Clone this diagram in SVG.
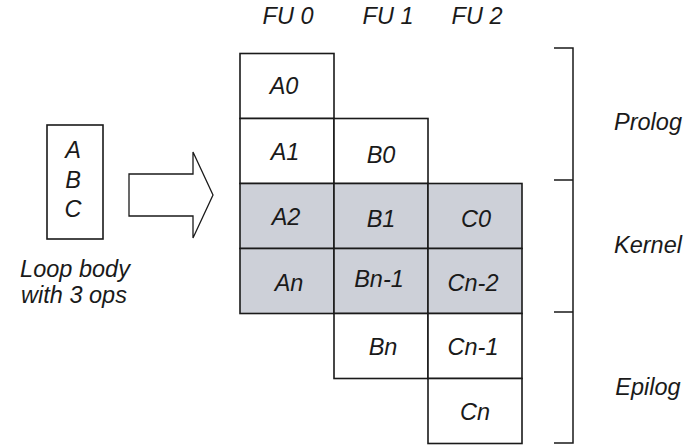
<svg xmlns="http://www.w3.org/2000/svg" width="688" height="446" viewBox="0 0 688 446">
  <style>
    text { font-family: "Liberation Sans", Arial, sans-serif; font-style: italic; font-size: 23.5px; fill: #1a1a1a; text-anchor: middle; }
    .cell { fill: #ffffff; stroke: #1a1a1a; stroke-width: 1.6; }
    .kern { fill: #cdd0d8; stroke: #1a1a1a; stroke-width: 1.6; }
    .line { fill: none; stroke: #1a1a1a; stroke-width: 1.5; }
    .arrow { fill: #ffffff; stroke: #1a1a1a; stroke-width: 1.3; }
  </style>

  <!-- functional unit headers -->
  <g id="headers">
    <text x="288" y="24">FU 0</text>
    <text x="388" y="24">FU 1</text>
    <text x="477" y="24">FU 2</text>
  </g>

  <!-- loop body -->
  <g id="loop-body">
    <rect x="47" y="125" width="56" height="114" class="cell"/>
    <text x="73" y="158">A</text>
    <text x="73" y="188">B</text>
    <text x="73" y="217">C</text>
    <text x="75" y="277">Loop body</text>
    <text x="74" y="303">with 3 ops</text>
  </g>

  <!-- schedule cells -->
  <g id="A0"><rect x="240" y="53.5" width="94" height="65" class="cell"/><text x="284" y="94">A0</text></g>
  <g id="A1"><rect x="240" y="118.5" width="94" height="65" class="cell"/><text x="285" y="160">A1</text></g>
  <g id="B0"><rect x="334" y="118.5" width="94" height="65" class="cell"/><text x="381" y="163">B0</text></g>

  <g id="A2"><rect x="240" y="183.5" width="94" height="65" class="kern"/><text x="286" y="225">A2</text></g>
  <g id="B1"><rect x="334" y="183.5" width="94" height="65" class="kern"/><text x="381" y="227">B1</text></g>
  <g id="C0"><rect x="428" y="183.5" width="94" height="65" class="kern"/><text x="476" y="227">C0</text></g>

  <g id="An"><rect x="240" y="248.5" width="94" height="65" class="kern"/><text x="289" y="291">An</text></g>
  <g id="Bn-1"><rect x="334" y="248.5" width="94" height="65" class="kern"/><text x="379" y="287">Bn-1</text></g>
  <g id="Cn-2"><rect x="428" y="248.5" width="94" height="65" class="kern"/><text x="473" y="291">Cn-2</text></g>

  <g id="Bn"><rect x="334" y="313.5" width="94" height="65" class="cell"/><text x="383" y="355">Bn</text></g>
  <g id="Cn-1"><rect x="428" y="313.5" width="94" height="65" class="cell"/><text x="473" y="355">Cn-1</text></g>

  <g id="Cn"><rect x="428" y="378.5" width="94" height="65" class="cell"/><text x="475" y="420">Cn</text></g>

  <!-- phase labels -->
  <g id="labels">
    <text x="648" y="130">Prolog</text>
    <text x="648" y="253">Kernel</text>
    <text x="648" y="395">Epilog</text>
  </g>

  <!-- connectors: transform arrow and phase bracket -->
  <g id="connectors">
    <polygon class="arrow" points="129,174 193,174 193,152 213,195 193,238 193,216 129,216"/>
    <path class="line" d="M554,48 H573 V443 H554 M554,180 H573 M554,312 H573"/>
  </g>
</svg>
